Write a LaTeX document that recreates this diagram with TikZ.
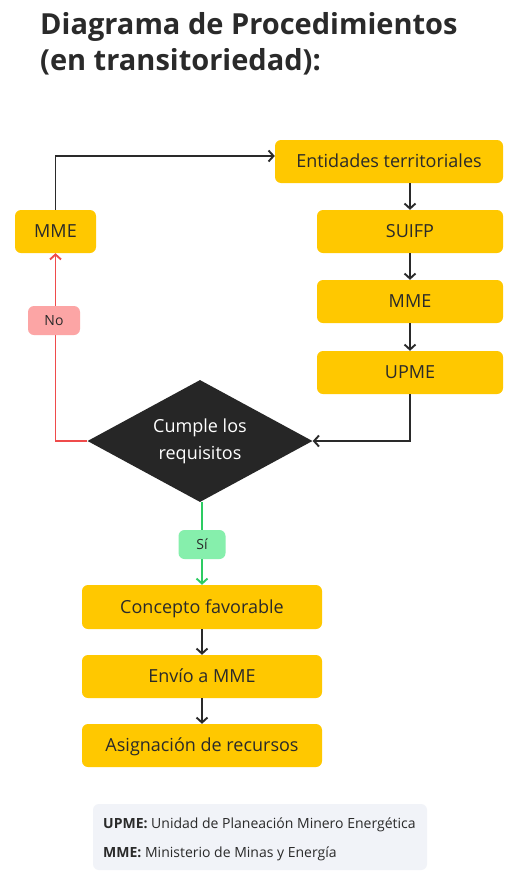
\documentclass[tikz,border=0pt]{standalone}
\usepackage{fontspec}
\setmainfont{Open Sans}
\usetikzlibrary{arrows.meta,shapes.geometric}
\definecolor{boxyellow}{HTML}{FFC800}
\definecolor{ink}{HTML}{2A2A2A}
\definecolor{diam}{HTML}{262626}
\definecolor{nored}{HTML}{EF4B4B}
\definecolor{nofill}{HTML}{FCA5A5}
\definecolor{sigreen}{HTML}{2DCB62}
\definecolor{sifill}{HTML}{86EFAC}
\definecolor{legbg}{HTML}{F1F3F8}
\begin{document}
\begin{tikzpicture}[x=1pt,y=-1pt,
  box/.style={fill=boxyellow, rounded corners=6pt, text=ink, font=\fontsize{18}{21}\selectfont, inner sep=0pt, minimum height=43pt, text height=15pt, text depth=2.1pt},
  tag/.style={rounded corners=6pt, text=ink, font=\fontsize{14}{16}\selectfont, inner sep=0pt, minimum height=29pt, text height=12pt, text depth=2pt},
  conn/.style={draw=ink, line width=1.9pt, -{Straight Barb[length=5pt,width=11pt,line width=1.9pt]}},
  noline/.style={draw=nored, line width=1.9pt, -{Straight Barb[length=5pt,width=11pt,line width=1.9pt]}},
  siline/.style={draw=sigreen, line width=1.9pt, -{Straight Barb[length=5pt,width=11pt,line width=1.9pt]}},
  titlefont/.style={font=\fontsize{29}{36}\selectfont\bfseries, text=ink, inner sep=0pt, anchor=base west},
  legtext/.style={font=\fontsize{14}{16}\selectfont, text=ink, inner sep=0pt, anchor=base west}]
\useasboundingbox[fill=white] (0,0) rectangle (527,878);

\node[titlefont] (t1) at (40,34) {Diagrama de Procedimientos};
\node[titlefont] (t2) at (40,70) {(en transitoriedad):};

\node[box, minimum width=228pt] (ent) at (389,161.5) {Entidades territoriales};
\node[box, minimum width=81pt] (mmeL) at (55.5,231.5) {MME};
\node[box, minimum width=186pt] (suifp) at (410,231.5) {SUIFP};
\node[box, minimum width=186pt] (mmeR) at (410,301.5) {MME};
\node[box, minimum width=186pt] (upme) at (410,372.5) {UPME};

\node[diamond, fill=diam, text=white, inner sep=0pt, minimum width=225pt, minimum height=122pt, shape aspect=1.84, align=center, font=\fontsize{18}{27}\selectfont] (dec) at (200,441) {Cumple los\\requisitos};

\node[box, minimum width=240pt, minimum height=44pt] (conc) at (202,607) {Concepto favorable};
\node[box, minimum width=240pt] (envio) at (202,676.5) {Envío a MME};
\node[box, minimum width=240pt] (asig) at (202,745.5) {Asignación de recursos};

\draw[conn] (mmeL.north) |- ([yshift=5.5pt]ent.west);
\draw[conn] (suifp.north |- ent.south) -- (suifp.north);
\draw[conn] (suifp) -- (mmeR);
\draw[conn] (mmeR) -- (upme);
\draw[conn] (upme.south) |- (dec.east);
\draw[noline] (dec.west) -| (mmeL.south);
\draw[siline] (conc.north |- dec.south) -- (conc.north);
\draw[conn] (conc) -- (envio);
\draw[conn] (envio) -- (asig);

\node[tag, fill=nofill, minimum width=52pt] (no) at (54,320.5) {No};
\node[tag, fill=sifill, minimum width=47pt] (si) at (202,544.5) {Sí};

\node[fill=legbg, rounded corners=6pt, minimum width=334pt, minimum height=66pt, inner sep=0pt] (leg) at (260,837) {};
\node[legtext] (l1) at (103,828) {\textbf{UPME:} Unidad de Planeación Minero Energética};
\node[legtext] (l2) at (103,857) {\textbf{MME:} Ministerio de Minas y Energía};
\end{tikzpicture}
\end{document}
